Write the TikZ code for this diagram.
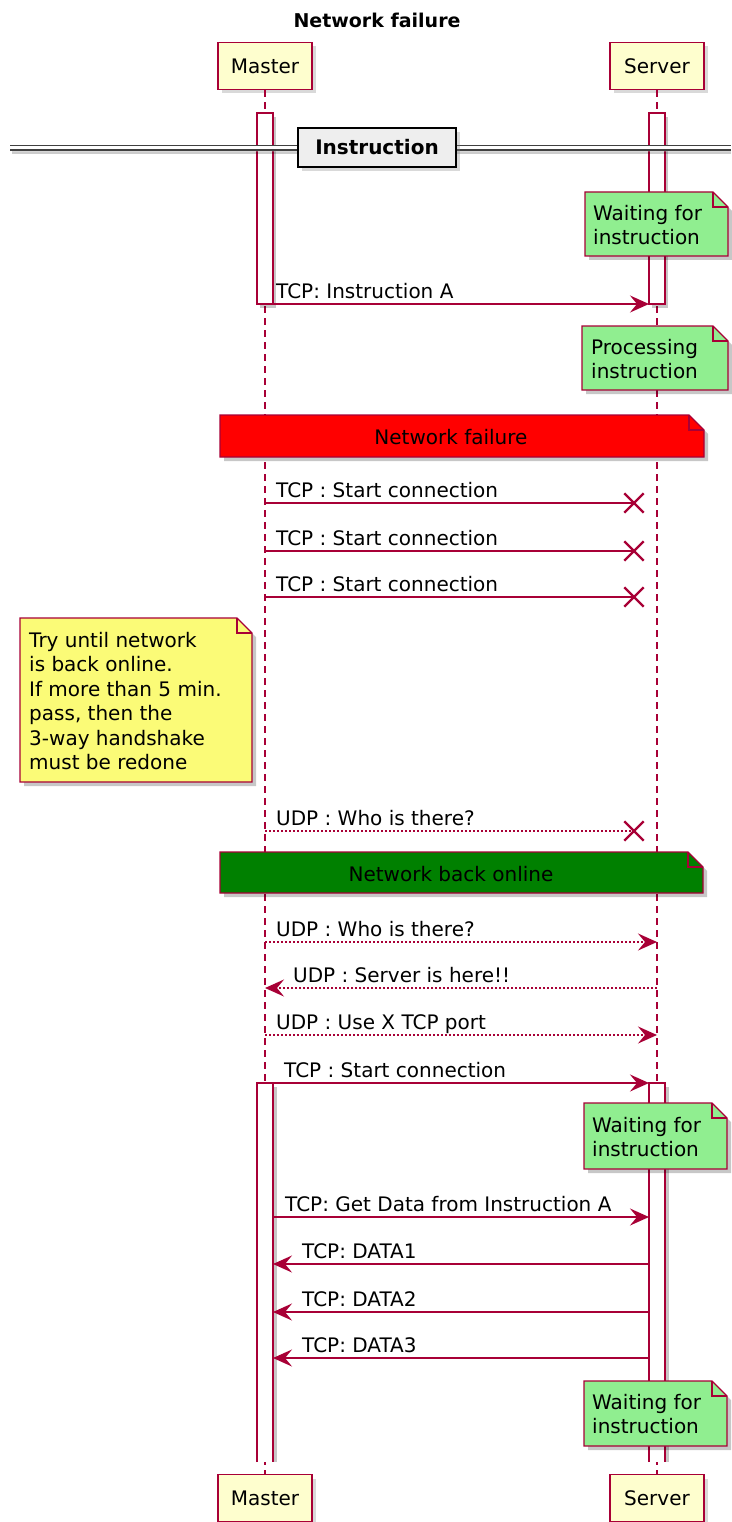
\documentclass[tikz,border=0pt]{standalone}
\usepackage{fontspec}
\setmainfont{DejaVu Sans}
\usetikzlibrary{arrows.meta,shapes.misc,shadows}
\definecolor{crim}{HTML}{A80036}
\definecolor{partfill}{HTML}{FEFECE}
\definecolor{ynote}{HTML}{FBFB77}
\definecolor{gnote}{HTML}{90EE90}
\definecolor{sepfill}{HTML}{EEEEEE}
\definecolor{dgreen}{HTML}{008000}
\tikzset{
 shd/.style={fill=black, opacity=0.22},
 part/.style={draw=crim, fill=partfill, line width=1.3pt, minimum width=94pt, minimum height=47pt, inner sep=0pt, font=\fontsize{20}{24}\selectfont, drop shadow={shadow xshift=4pt, shadow yshift=-4pt, opacity=0.3}},
 life/.style={draw=crim, line width=1.3pt, dash pattern=on 7pt off 5pt},
 actbar/.style={draw=crim, fill=white, line width=1.2pt},
 msg/.style={draw=crim, line width=1.6pt, -{Stealth[length=19pt,width=17pt,inset=7pt]}},
 dmsg/.style={msg, dash pattern=on 2pt off 2pt},
 lost/.style={draw=crim, line width=1.6pt},
 xmk/.style={cross out, draw=crim, line width=2.4pt, minimum size=17pt, inner sep=0pt},
 lbl/.style={font=\fontsize{20}{24}\selectfont, anchor=base west, inner sep=0pt},
 notebd/.style={draw=crim, line width=1.2pt},
 notetxt/.style={font=\fontsize{20}{24.5}\selectfont, align=left, anchor=west, inner sep=0pt},
 bandtxt/.style={font=\fontsize{20}{24}\selectfont, inner sep=0pt},
}
\newcommand\foldnote[5]{%
  \fill[shd] (#1+4,#2+4) -- (#3+4-15,#2+4) -- (#3+4,#2+4+15) -- (#3+4,#4+4) -- (#1+4,#4+4) -- cycle;
  \filldraw[notebd, fill=#5] (#1,#2) -- (#3-15,#2) -- (#3,#2+15) -- (#3,#4) -- (#1,#4) -- cycle;
  \draw[notebd] (#3-15,#2) -- (#3-15,#2+15) -- (#3,#2+15);
}
\begin{document}
\begin{tikzpicture}[x=1pt,y=-1pt]
\useasboundingbox (0,0) rectangle (731,1522);
% title
\node[font=\bfseries\fontsize{19}{23}\selectfont] (title) at (377,20) {Network failure};
% participants (top/bottom)
\node[part] (mtop) at (265,66) {Master};
\node[part] (stop) at (657,66) {Server};
\node[part] (mbot) at (265,1498) {Master};
\node[part] (sbot) at (657,1498) {Server};
% lifelines
\draw[life] (mtop.south) -- (mbot.north);
\draw[life] (stop.south) -- (sbot.north);
% activation bars (top)
\fill[shd] (260,117) rectangle (276,308);
\fill[shd] (652,117) rectangle (668,308);
\draw[actbar] (257,113) rectangle (273,304);
\draw[actbar] (649,113) rectangle (665,304);
% activation bars (bottom, open)
\fill[shd] (273,1087) rectangle (277,1462);
\fill[shd] (665,1087) rectangle (669,1462);
\fill[white] (257,1083) rectangle (273,1462);
\fill[white] (649,1083) rectangle (665,1462);
\draw[crim, line width=1.2pt] (257,1462) -- (257,1083) -- (273,1083) -- (273,1462);
\draw[crim, line width=1.2pt] (649,1462) -- (649,1083) -- (665,1083) -- (665,1462);
% separator
\draw[black, opacity=0.2, line width=1.4pt, double distance=3pt] (12,151) -- (731,151);
\draw[black!75, line width=1.4pt, double distance=3pt] (10,148) -- (731,148);
\node[draw=black, line width=2pt, fill=sepfill, font=\bfseries\fontsize{20}{24}\selectfont, minimum width=158pt, minimum height=39pt, inner sep=0pt, drop shadow={shadow xshift=4pt, shadow yshift=-4pt, opacity=0.3}] (sep) at (377,147.5) {Instruction};
% notes
\foldnote{585}{192}{728}{256}{gnote}
\node[notetxt] (n1) at (593,225) {Waiting for\\instruction};
\foldnote{582}{326}{728}{390}{gnote}
\node[notetxt] (n2) at (591,359) {Processing\\instruction};
\foldnote{220}{415}{704}{457}{red}
\node[bandtxt] (band1) at (451,437) {Network failure};
\foldnote{20}{618}{252}{782}{ynote}
\node[notetxt] (n3) at (29,701) {Try until network\\is back online.\\If more than 5 min.\\pass, then the\\3-way handshake\\must be redone};
\foldnote{220}{852}{703}{893}{dgreen}
\node[bandtxt] (band2) at (451,874) {Network back online};
\foldnote{584}{1103}{727}{1169}{gnote}
\node[notetxt] (n4) at (592,1137) {Waiting for\\instruction};
\foldnote{584}{1381}{727}{1446}{gnote}
\node[notetxt] (n5) at (592,1414) {Waiting for\\instruction};
% messages
\coordinate (a1s) at (273,304); \coordinate (a1e) at (649,304);
\draw[msg] (a1s) -- (a1e);
\node[lbl] (l1) at (276,298) {TCP: Instruction A};
% lost TCP
\coordinate (b1s) at (265,503); \node[xmk] (x1) at (634,503) {};
\coordinate (b2s) at (265,551); \node[xmk] (x2) at (634,551) {};
\coordinate (b3s) at (265,597); \node[xmk] (x3) at (634,597) {};
\draw[lost] (b1s) -- (x1.center);
\draw[lost] (b2s) -- (x2.center);
\draw[lost] (b3s) -- (x3.center);
\node[lbl] (l2) at (276,497) {TCP : Start connection};
\node[lbl] (l3) at (276,545) {TCP : Start connection};
\node[lbl] (l4) at (276,591) {TCP : Start connection};
% lost UDP
\coordinate (c1s) at (265,831); \node[xmk] (x4) at (634,831) {};
\draw[lost, dash pattern=on 2pt off 2pt] (c1s) -- (x4.center);
\node[lbl] (l5) at (276,825) {UDP : Who is there?};
% UDP exchange
\coordinate (d1s) at (265,942); \coordinate (d1e) at (657,942);
\draw[dmsg] (d1s) -- (d1e);
\node[lbl] (l6) at (276,936) {UDP : Who is there?};
\coordinate (d2s) at (657,988); \coordinate (d2e) at (265,988);
\draw[dmsg] (d2s) -- (d2e);
\node[lbl] (l7) at (293,982) {UDP : Server is here!!};
\coordinate (d3s) at (265,1035); \coordinate (d3e) at (657,1035);
\draw[dmsg] (d3s) -- (d3e);
\node[lbl] (l8) at (276,1029) {UDP : Use X TCP port};
% TCP start
\coordinate (e1s) at (265,1083); \coordinate (e1e) at (649,1083);
\draw[msg] (e1s) -- (e1e);
\node[lbl] (l9) at (284,1077) {TCP : Start connection};
% data
\coordinate (f1s) at (273,1217); \coordinate (f1e) at (649,1217);
\draw[msg] (f1s) -- (f1e);
\node[lbl] (l10) at (285,1211) {TCP: Get Data from Instruction A};
\coordinate (g1s) at (649,1264); \coordinate (g1e) at (273,1264);
\draw[msg] (g1s) -- (g1e);
\node[lbl] (l11) at (302,1258) {TCP: DATA1};
\coordinate (g2s) at (649,1312); \coordinate (g2e) at (273,1312);
\draw[msg] (g2s) -- (g2e);
\node[lbl] (l12) at (302,1306) {TCP: DATA2};
\coordinate (g3s) at (649,1358); \coordinate (g3e) at (273,1358);
\draw[msg] (g3s) -- (g3e);
\node[lbl] (l13) at (302,1352) {TCP: DATA3};
\end{tikzpicture}
\end{document}
